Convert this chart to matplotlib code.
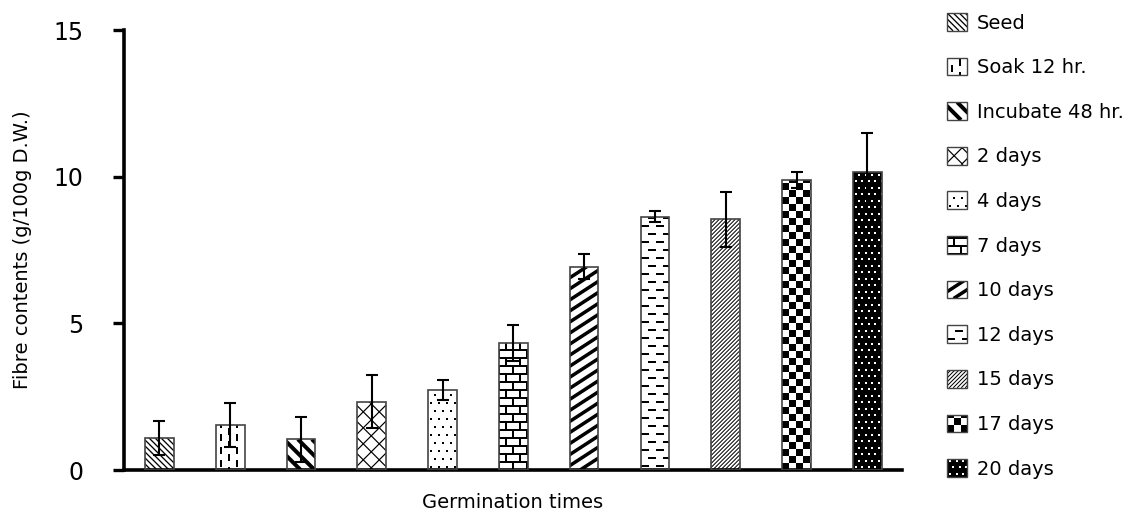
import numpy as np
import matplotlib
matplotlib.use("Agg")
import matplotlib.pyplot as plt
from matplotlib.collections import LineCollection, PolyCollection
from matplotlib.patches import Rectangle
from matplotlib.legend_handler import HandlerBase

# data
labels = ["Seed", "Soak 12 hr.", "Incubate 48 hr.", "2 days", "4 days", "7 days",
          "10 days", "12 days", "15 days", "17 days", "20 days"]
fibre = [1.10, 1.53, 1.05, 2.33, 2.73, 4.32, 6.93, 8.64, 8.55, 9.89, 10.15]
sd = [0.58, 0.75, 0.77, 0.91, 0.33, 0.62, 0.43, 0.20, 0.94, 0.28, 1.34]
patterns = ["fine_back", "vdash", "thick_back", "cross", "dots", "brick",
            "thick_fwd", "hdash", "fine_fwd", "checker", "black_dots"]

DPI = 100
PX = 72.0 / DPI  # points per pixel


def diag_lines(W, H, step, slope, back=False):
    # parallel lines covering a W x H box (pixel units)
    segs = []
    span = H / slope
    c = -span - step
    while c < W + span + step:
        if back:
            segs.append([(c, H), (c + span, 0)])
        else:
            segs.append([(c, 0), (c + span, H)])
        c += step
    return segs


def squares(W, H, size, xstep, ystep, stagger):
    polys = []
    j = 0
    y = 2
    while y < H + ystep:
        x = 2 + (stagger if j % 2 else 0)
        while x < W + xstep:
            polys.append([(x, y), (x + size, y), (x + size, y + size), (x, y + size)])
            x += xstep
        y += ystep
        j += 1
    return polys


def pattern_geom(kind, W, H):
    lines, fills = [], []
    if kind == "fine_back":
        lines.append((diag_lines(W, H, 6, 1, back=True), 1.3, "black"))
    elif kind == "thick_back":
        lines.append((diag_lines(W, H, 14, 1, back=True), 4.0, "black"))
    elif kind == "cross":
        lines.append((diag_lines(W, H, 16, 1), 1.2, "black"))
        lines.append((diag_lines(W, H, 16, 1, back=True), 1.2, "black"))
    elif kind == "fine_fwd":
        lines.append((diag_lines(W, H, 4, 1), 1.0, "black"))
    elif kind == "thick_fwd":
        lines.append((diag_lines(W, H, 17, 0.65), 3.5, "black"))
    elif kind == "vdash":
        segs = []
        for i, x in enumerate(np.arange(5, W, 8)):
            y = -6.5 * (i % 2) + 3
            while y < H:
                segs.append([(x, y), (x, y + 7)])
                y += 13
        lines.append((segs, 2.0, "black"))
    elif kind == "hdash":
        segs = []
        for j, y in enumerate(np.arange(4, H, 8)):
            x = -7.5 * (j % 2)
            while x < W:
                segs.append([(x, y), (x + 8, y)])
                x += 15
        lines.append((segs, 2.0, "black"))
    elif kind == "brick":
        segs = []
        for j, y in enumerate(np.arange(0, H + 8, 8)):
            segs.append([(0, y), (W, y)])
            x = 7 * (j % 2)
            while x < W:
                segs.append([(x, y), (x, y + 8)])
                x += 14
        lines.append((segs, 2.0, "black"))
    elif kind == "dots":
        fills.append((squares(W, H, 2, 8, 8, 4), "black"))
    elif kind == "checker":
        polys = []
        for j, y in enumerate(np.arange(0, H + 7, 7)):
            for i, x in enumerate(np.arange(0, W + 7, 7)):
                if (i + j) % 2 == 0:
                    polys.append([(x, y), (x + 7, y), (x + 7, y + 7), (x, y + 7)])
        fills.append((polys, "black"))
    elif kind == "black_dots":
        fills.append((squares(W, H, 2, 6.5, 6.5, 3.25), "white"))
    return lines, fills


faces = {k: ("black" if k == "black_dots" else "white") for k in patterns}


def pattern_artists(kind, x0, y0, w, h, ux, uy, transform):
    W, H = w / ux, h / uy
    lines, fills = pattern_geom(kind, W, H)
    arts = []
    for segs, lw, color in lines:
        pts = [[(x0 + a * ux, y0 + b * uy) for a, b in s] for s in segs]
        arts.append(LineCollection(pts, linewidths=lw * PX, colors=color,
                                   transform=transform, capstyle="butt"))
    for polys, color in fills:
        pts = [[(x0 + a * ux, y0 + b * uy) for a, b in p] for p in polys]
        arts.append(PolyCollection(pts, facecolors=color, edgecolors="none",
                                   linewidths=0, transform=transform))
    return arts


class PatternKey:
    def __init__(self, kind):
        self.kind = kind


class PatternHandler(HandlerBase):
    def create_artists(self, legend, orig_handle, xdescent, ydescent,
                       width, height, fontsize, trans):
        kind = orig_handle.kind
        box = Rectangle((-xdescent, -ydescent), width, height,
                        facecolor=faces[kind], edgecolor="none", transform=trans)
        arts = [box]
        for a in pattern_artists(kind, -xdescent, -ydescent, width, height, PX, PX, trans):
            a.set_clip_path(box)
            arts.append(a)
        edge = Rectangle((-xdescent, -ydescent), width, height, fill=False,
                         edgecolor="#444444", linewidth=1.0, transform=trans)
        arts.append(edge)
        return arts


fig = plt.figure(figsize=(11.33, 5.14), dpi=DPI)
ax = fig.add_axes([124 / 1133, 1 - 470 / 514, (902 - 124) / 1133, 440 / 514])

x = np.arange(len(labels))
xmin, xmax = -0.5, 10.49
ax.set_xlim(xmin, xmax)
ax.set_ylim(0, 15)
bar_w = 0.405

bars = ax.bar(x, fibre, bar_w, color=[faces[k] for k in patterns],
              edgecolor="none", zorder=2)

ax_w_px = fig.get_figwidth() * DPI * ax.get_position().width
ax_h_px = fig.get_figheight() * DPI * ax.get_position().height
ux = (xmax - xmin) / ax_w_px
uy = 15.0 / ax_h_px

for rect, kind in zip(bars.patches, patterns):
    for art in pattern_artists(kind, rect.get_x(), 0, rect.get_width(),
                               rect.get_height(), ux, uy, ax.transData):
        art.set_zorder(2.5)
        ax.add_collection(art, autolim=False)
        art.set_clip_path(rect)

ax.bar(x, fibre, bar_w, fill=False, edgecolor="#444444", linewidth=1.2, zorder=3)
ax.errorbar(x, fibre, yerr=sd, fmt="none", ecolor="black", elinewidth=1.5,
            capsize=4.3, capthick=1.5, zorder=4)

ax.set_xlim(xmin, xmax)
ax.set_ylim(0, 15)

# axes styling
for s in ["top", "right"]:
    ax.spines[s].set_visible(False)
for s in ["left", "bottom"]:
    ax.spines[s].set_linewidth(2.6)
ax.set_xticks([])
ax.set_yticks([0, 5, 10, 15])
ax.tick_params(axis="y", direction="out", length=8, width=2.4, pad=21, labelsize=17)

ax.set_ylabel("Fibre contents (g/100g D.W.)", fontsize=14)
ax.yaxis.set_label_coords(-0.118, 0.5)
ax.set_xlabel("Germination times", fontsize=14)
ax.xaxis.set_label_coords(0.5, -0.052)

handles = [PatternKey(k) for k in patterns]
ax.legend(handles, labels, handler_map={PatternKey: PatternHandler()},
          loc="upper left", bbox_to_anchor=(947 / 1133, 1 - 13 / 514),
          bbox_transform=fig.transFigure, frameon=False, fontsize=14,
          handlelength=1.03, handleheight=1.03, handletextpad=0.5,
          labelspacing=1.29, borderpad=0, borderaxespad=0)

fig.savefig("out.png", dpi=DPI)
